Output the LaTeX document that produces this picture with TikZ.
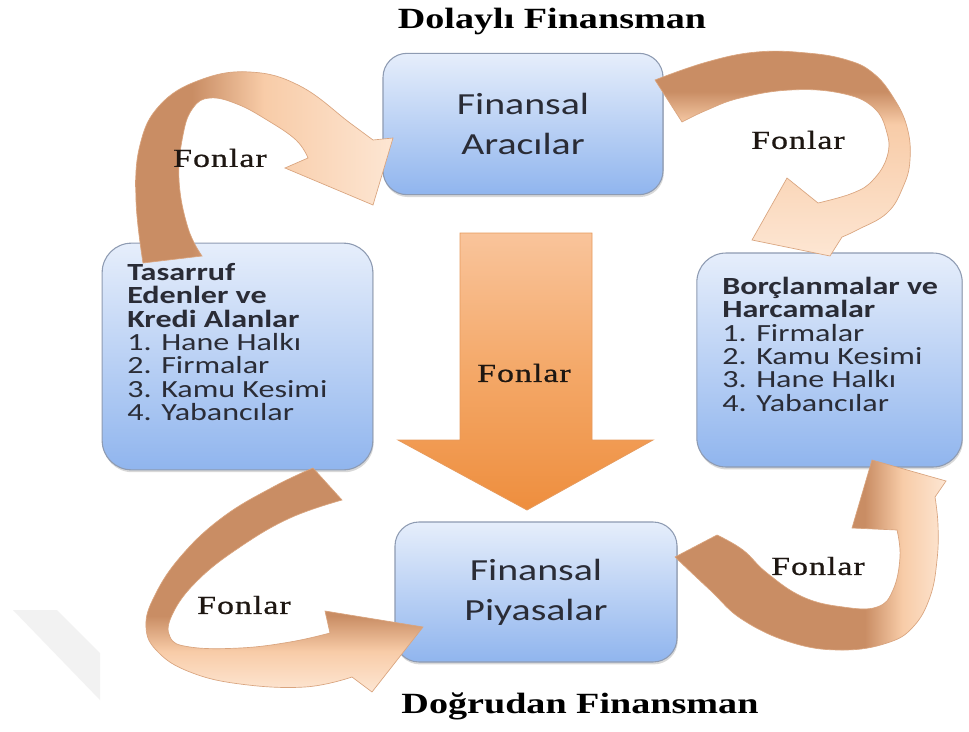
\documentclass[tikz,border=0pt]{standalone}
\usepackage{fontspec}
\usetikzlibrary{shadows}
\newfontfamily\boxfont[FakeStretch=1.3]{Carlito}
\newfontfamily\serifT[FakeStretch=1.3]{Liberation Serif}
\newfontfamily\fonlarfont[FakeStretch=1.3,LetterSpace=4,FakeBold=0.8]{Liberation Serif}

\definecolor{arDark}{HTML}{C98D64}
\definecolor{arLight}{HTML}{F8CCA8}
\definecolor{arVLight}{HTML}{FDE6D3}
\definecolor{arEdge}{HTML}{D9A47E}
\definecolor{boxTop}{HTML}{E6EEFB}
\definecolor{boxBot}{HTML}{90B5EE}
\definecolor{boxLine}{HTML}{8E9BB2}
\definecolor{txtDark}{HTML}{2A2C36}
\definecolor{orTop}{HTML}{F9C49B}
\definecolor{orMid}{HTML}{F4A868}
\definecolor{orBot}{HTML}{EE8E3E}
\definecolor{orEdge}{HTML}{E79A5C}
\definecolor{fonC}{HTML}{1E1712}
\definecolor{wmark}{HTML}{F2F2F2}

\pgfdeclarehorizontalshading{shTL}{100bp}{color(0bp)=(arDark); color(36bp)=(arDark); color(50bp)=(arLight); color(75bp)=(arVLight); color(100bp)=(arVLight)}
\pgfdeclareverticalshading{shTR}{100bp}{color(0bp)=(arVLight); color(25bp)=(arVLight); color(57bp)=(arLight); color(65bp)=(arDark); color(100bp)=(arDark)}
\pgfdeclareverticalshading{shBL}{100bp}{color(0bp)=(arVLight); color(25bp)=(arVLight); color(34bp)=(arLight); color(42bp)=(arDark); color(100bp)=(arDark)}
\pgfdeclarehorizontalshading{shBR}{100bp}{color(0bp)=(arDark); color(60bp)=(arDark); color(67bp)=(arLight); color(75bp)=(arVLight); color(100bp)=(arVLight)}
\pgfdeclareverticalshading{shDown}{100bp}{color(0bp)=(orBot); color(25bp)=(orBot); color(50bp)=(orMid); color(75bp)=(orTop); color(100bp)=(orTop)}

\begin{document}
\begin{tikzpicture}[x=0.75pt,y=-0.75pt,
  box/.style={draw=boxLine, line width=0.8pt, top color=boxTop, bottom color=boxBot,
    drop shadow={shadow xshift=0.6pt, shadow yshift=-1.8pt, opacity=0.3}, inner sep=0pt},
  midbox/.style={box, rounded corners=18pt, minimum width=210pt, minimum height=106pt,
    align=center, text=txtDark, font=\boxfont\fontsize{23}{30}\selectfont},
  sidebox/.style={box, rounded corners=22pt},
  sidetext/.style={anchor=north west, align=left, inner sep=0pt, text=txtDark,
    font=\boxfont\fontsize{18.5}{17.5}\selectfont},
  fonlar/.style={inner sep=0pt, text=fonC, font=\fonlarfont\fontsize{19.5}{22}\selectfont},
  titletext/.style={inner sep=0pt, text=black, font=\serifT\bfseries\fontsize{22}{26}\selectfont},
  curved/.style={draw=arEdge, line width=0.5pt},
  bigarrow/.style={shading=shDown, draw=orEdge, line width=0.6pt}
]
\useasboundingbox (0,0) rectangle (969,731);
\fill[white] (0,0) rectangle (969,731);
% faint watermark
\fill[wmark] (13,610) -- (57,610) -- (100,653) -- (100,700) -- cycle;

% boxes
\node[midbox] (arac) at (523,124) {Finansal\\Aracılar};
\node[sidebox, minimum width=203pt, minimum height=170pt] (tas) at (237.5,356.5) {};
\node[sidebox, minimum width=199pt, minimum height=160.5pt] (bor) at (829.5,360) {};
\node[midbox, minimum width=211.5pt, minimum height=105pt] (piy) at (536,592) {Finansal\\Piyasalar};

% big down arrow
\shade[bigarrow] (460,233) -- (592,233) -- (592,440) -- (653,440) -- (527,510) -- (398,440) -- (460,440) -- cycle;

% top-left curved arrow
\shade[shading=shTL, curved]
  plot[smooth, tension=0.7] coordinates {(143,263) (136,200) (140,145) (160,105) (200,80) (250,72) (300,86) (350,123) (373,140)}
  -- (393,138) -- (373,205) -- (285,168)
  -- plot[smooth, tension=0.7] coordinates {(308,158) (296,140) (267,120) (237,104) (210,98) (193,108) (183,135) (179,180) (188,228) (202,256)}
  -- cycle;

% top-right curved arrow
\shade[shading=shTR, curved]
  plot[smooth, tension=0.7] coordinates {(655,80) (707,62) (757,52) (807,53) (847,60) (873,73) (893,97) (907,127) (910,160) (903,187) (887,213) (857,230) (842,237)}
  -- (830,256) -- (752,240) -- (787,178)
  -- plot[smooth, tension=0.7] coordinates {(818,203) (853,193) (873,180) (887,157) (887,133) (873,107) (840,93) (790,90) (740,98) (707,110) (682,122)}
  -- cycle;

% bottom-left curved arrow
\shade[shading=shBL, curved]
  plot[smooth, tension=0.7] coordinates {(313,468) (273,487) (223,517) (182,555) (155,595) (146,627) (158,652) (190,672) (240,684) (305,687) (352,677)}
  -- (372,692) -- (423,627) -- (325,611)
  -- plot[smooth, tension=0.7] coordinates {(330,633) (290,642) (240,648) (190,647) (170,637) (173,613) (198,580) (240,547) (290,518) (342,500)}
  -- cycle;

% bottom-right curved arrow
\shade[shading=shBR, curved]
  plot[smooth, tension=0.7] coordinates {(675,557) (710,590) (743,620) (793,643) (843,650) (887,643) (913,627) (930,597) (937,560) (938,525) (935,497)}
  -- (946,481) -- (872,460) -- (852,528)
  -- plot[smooth, tension=0.7] coordinates {(897,530) (900,557) (893,590) (877,607) (843,607) (803,597) (767,573) (743,550) (717,535)}
  -- cycle;

% side box texts
\node[sidetext] (tasT) at (127,263) {\textbf{Tasarruf}\\\textbf{Edenler ve}\\\textbf{Kredi Alanlar}\\1. Hane Halkı\\2. Firmalar\\3. Kamu Kesimi\\4. Yabancılar};
\node[sidetext] (borT) at (722,277) {\textbf{Borçlanmalar ve}\\\textbf{Harcamalar}\\1. Firmalar\\2. Kamu Kesimi\\3. Hane Halkı\\4. Yabancılar};

% labels
\node[fonlar] (f1) at (220,158) {Fonlar};
\node[fonlar] (f2) at (798,140) {Fonlar};
\node[fonlar] (f3) at (524,373) {Fonlar};
\node[fonlar] (f4) at (244,605) {Fonlar};
\node[fonlar] (f5) at (818,566) {Fonlar};

% titles
\node[titletext] (t1) at (552,21) {Dolaylı Finansman};
\node[titletext] (t2) at (580,706) {Doğrudan Finansman};
\end{tikzpicture}
\end{document}
